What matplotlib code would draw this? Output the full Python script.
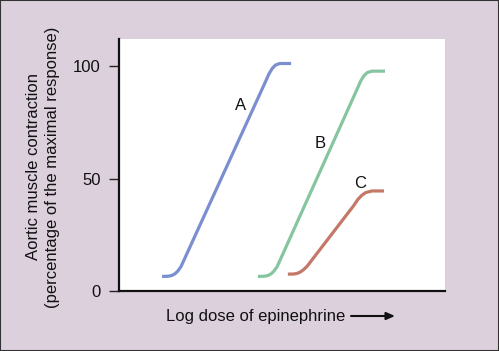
import matplotlib
matplotlib.use("Agg")
import matplotlib.pyplot as plt
from matplotlib.patches import Rectangle

# ---- data (x in arbitrary log-dose units, y in % of maximal response) ----
a_x = [1.32, 1.50, 1.62, 1.72, 1.80, 1.90, 4.49, 4.60, 4.70, 4.80, 4.93, 5.28]
a_y = [6.5, 6.55, 6.9, 7.7, 8.8, 10.8, 93.0, 96.6, 99.0, 100.5, 101.2, 101.2]

b_x = [4.26, 4.45, 4.57, 4.67, 4.75, 4.85, 7.31, 7.42, 7.52, 7.62, 7.76, 8.16]
b_y = [6.5, 6.55, 6.9, 7.7, 8.8, 10.8, 90.0, 93.6, 95.9, 97.2, 97.8, 97.8]

c_x = [5.18, 5.36, 5.48, 5.58, 5.67, 5.77, 7.20, 7.33, 7.45, 7.57, 7.76, 8.13]
c_y = [7.5, 7.55, 7.9, 8.6, 9.6, 11.0, 38.0, 40.8, 42.6, 43.8, 44.5, 44.5]

labels = ["A", "B", "C"]
label_x = [3.73, 6.17, 7.39]
label_y = [82.5, 65.7, 47.6]

y_ticks = [0, 50, 100]
y_ticklabels = ["0", "50", "100"]

W, H = 499, 351
bg = "#ddd0dd"
plt.rcParams["font.family"] = ["Liberation Sans", "DejaVu Sans"]
FS = 12

fig = plt.figure(figsize=(W / 100, H / 100), dpi=100, facecolor=bg)
ax = fig.add_axes([119 / W, (H - 291) / H, 326 / W, (291 - 39) / H])
ax.set_facecolor("white")

colors = ["#7b8fd0", "#85c59f", "#c47868"]
for xs, ys, col in zip([a_x, b_x, c_x], [a_y, b_y, c_y], colors):
    ax.plot(xs, ys, color=col, lw=2.3, solid_capstyle="butt", solid_joinstyle="round")

for lab, lx, ly in zip(labels, label_x, label_y):
    ax.text(lx, ly, lab, fontsize=FS, ha="center", va="center", color="#111111")

ax.set_xlim(0, 10)
ax.set_ylim(0, 112.1)
ax.set_yticks(y_ticks)
ax.set_yticklabels(y_ticklabels, fontsize=FS, color="#111111")
ax.set_xticks([])
ax.tick_params(axis="y", direction="out", length=7, width=1, pad=6, color="#222222")
for s in ["top", "right"]:
    ax.spines[s].set_visible(False)
for s in ["left", "bottom"]:
    ax.spines[s].set_linewidth(1.6)
    ax.spines[s].set_color("#111111")

# y-axis label (two lines)
fig.text(34 / W, 1 - 167 / H, "Aortic muscle contraction", rotation=90,
         ha="center", va="center", fontsize=FS, color="#111111")
fig.text(53 / W, 1 - 167 / H, "(percentage of the maximal response)", rotation=90,
         ha="center", va="center", fontsize=FS, color="#111111")

# x-axis label with arrow
fig.text(165.5 / W, 1 - 316 / H, "Log dose of epinephrine", ha="left", va="center",
         fontsize=FS, color="#111111")
fig.add_artist(matplotlib.patches.FancyArrowPatch(
    (351 / W, 1 - 316 / H), (395 / W, 1 - 316 / H), transform=fig.transFigure,
    arrowstyle="-|>,head_length=5,head_width=2.2", color="#111111", lw=1.5,
    mutation_scale=1, shrinkA=0, shrinkB=0))

# outer border
fig.add_artist(Rectangle((0, 0), 1, 1, transform=fig.transFigure, fill=False,
                         edgecolor="#333333", lw=1.5))

fig.savefig("out.png", dpi=100, facecolor=bg)
